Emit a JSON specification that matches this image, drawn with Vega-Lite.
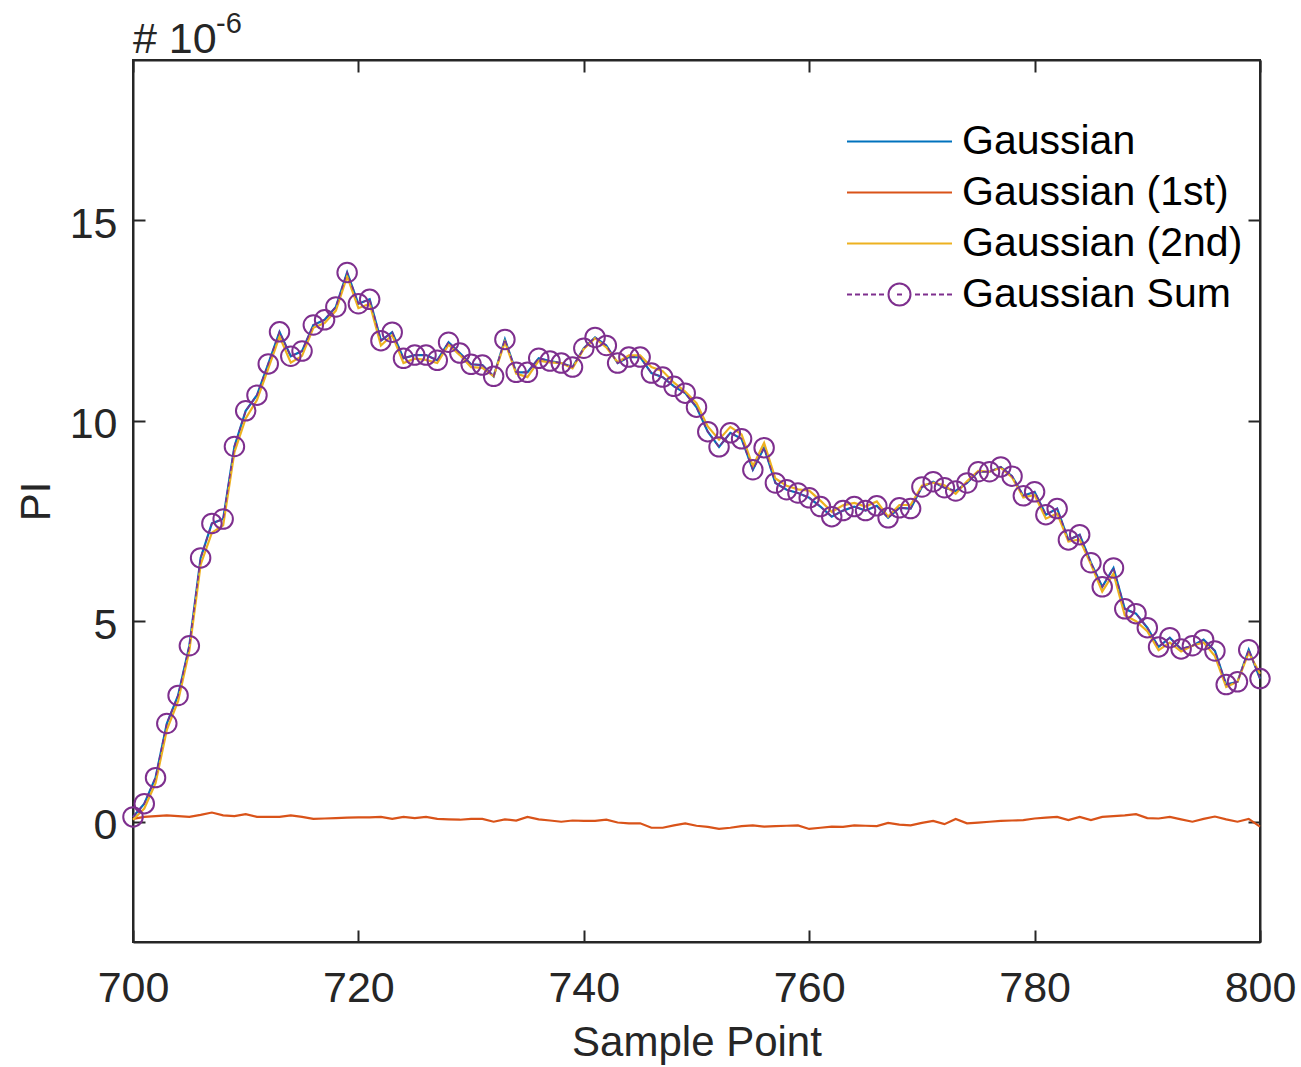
{
  "$schema": "https://vega.github.io/schema/vega-lite/v6.json",
  "width": 1127,
  "height": 882,
  "autosize": {"type": "none"},
  "padding": {"left": 133, "top": 60, "right": 41, "bottom": 125},
  "background": "white",
  "config": {
    "font": "Liberation Sans",
    "view": {"stroke": "#262626", "strokeWidth": 2},
    "axis": {
      "grid": false,
      "domainColor": "#262626",
      "domainWidth": 2,
      "tickColor": "#262626",
      "tickWidth": 2,
      "tickSize": -12,
      "labelFlush": false,
      "labelColor": "#262626",
      "labelFont": "Liberation Sans",
      "labelFontSize": 43,
      "titleFont": "Liberation Sans",
      "titleFontSize": 42,
      "titleFontWeight": "normal",
      "titleColor": "#262626"
    }
  },
  "data": {
    "values": [
      {"x": 700, "g": 0.12, "g1": 0.07, "g2": 0.05, "sum": 0.12},
      {"x": 701, "g": 0.45, "g1": 0.12, "g2": 0.33, "sum": 0.45},
      {"x": 702, "g": 1.10, "g1": 0.14, "g2": 0.96, "sum": 1.10},
      {"x": 703, "g": 2.45, "g1": 0.16, "g2": 2.29, "sum": 2.45},
      {"x": 704, "g": 3.15, "g1": 0.14, "g2": 3.01, "sum": 3.15},
      {"x": 705, "g": 4.39, "g1": 0.12, "g2": 4.27, "sum": 4.39},
      {"x": 706, "g": 6.58, "g1": 0.17, "g2": 6.41, "sum": 6.58},
      {"x": 707, "g": 7.44, "g1": 0.23, "g2": 7.21, "sum": 7.44},
      {"x": 708, "g": 7.55, "g1": 0.16, "g2": 7.39, "sum": 7.55},
      {"x": 709, "g": 9.36, "g1": 0.14, "g2": 9.22, "sum": 9.36},
      {"x": 710, "g": 10.25, "g1": 0.19, "g2": 10.06, "sum": 10.25},
      {"x": 711, "g": 10.64, "g1": 0.12, "g2": 10.52, "sum": 10.64},
      {"x": 712, "g": 11.42, "g1": 0.12, "g2": 11.30, "sum": 11.42},
      {"x": 713, "g": 12.22, "g1": 0.12, "g2": 12.10, "sum": 12.22},
      {"x": 714, "g": 11.61, "g1": 0.16, "g2": 11.45, "sum": 11.61},
      {"x": 715, "g": 11.74, "g1": 0.12, "g2": 11.62, "sum": 11.74},
      {"x": 716, "g": 12.39, "g1": 0.07, "g2": 12.32, "sum": 12.39},
      {"x": 717, "g": 12.52, "g1": 0.08, "g2": 12.44, "sum": 12.52},
      {"x": 718, "g": 12.84, "g1": 0.09, "g2": 12.75, "sum": 12.84},
      {"x": 719, "g": 13.70, "g1": 0.10, "g2": 13.60, "sum": 13.70},
      {"x": 720, "g": 12.92, "g1": 0.11, "g2": 12.81, "sum": 12.92},
      {"x": 721, "g": 13.03, "g1": 0.11, "g2": 12.92, "sum": 13.03},
      {"x": 722, "g": 12.00, "g1": 0.12, "g2": 11.88, "sum": 12.00},
      {"x": 723, "g": 12.21, "g1": 0.07, "g2": 12.14, "sum": 12.21},
      {"x": 724, "g": 11.56, "g1": 0.12, "g2": 11.44, "sum": 11.56},
      {"x": 725, "g": 11.64, "g1": 0.09, "g2": 11.55, "sum": 11.64},
      {"x": 726, "g": 11.64, "g1": 0.12, "g2": 11.52, "sum": 11.64},
      {"x": 727, "g": 11.51, "g1": 0.07, "g2": 11.44, "sum": 11.51},
      {"x": 728, "g": 11.96, "g1": 0.06, "g2": 11.90, "sum": 11.96},
      {"x": 729, "g": 11.69, "g1": 0.05, "g2": 11.64, "sum": 11.69},
      {"x": 730, "g": 11.41, "g1": 0.07, "g2": 11.34, "sum": 11.41},
      {"x": 731, "g": 11.39, "g1": 0.07, "g2": 11.32, "sum": 11.39},
      {"x": 732, "g": 11.11, "g1": 0.00, "g2": 11.11, "sum": 11.11},
      {"x": 733, "g": 12.03, "g1": 0.06, "g2": 11.97, "sum": 12.03},
      {"x": 734, "g": 11.21, "g1": 0.03, "g2": 11.18, "sum": 11.21},
      {"x": 735, "g": 11.21, "g1": 0.12, "g2": 11.09, "sum": 11.21},
      {"x": 736, "g": 11.56, "g1": 0.06, "g2": 11.50, "sum": 11.56},
      {"x": 737, "g": 11.49, "g1": 0.03, "g2": 11.46, "sum": 11.49},
      {"x": 738, "g": 11.44, "g1": 0.00, "g2": 11.44, "sum": 11.44},
      {"x": 739, "g": 11.34, "g1": 0.03, "g2": 11.31, "sum": 11.34},
      {"x": 740, "g": 11.81, "g1": 0.02, "g2": 11.79, "sum": 11.81},
      {"x": 741, "g": 12.08, "g1": 0.02, "g2": 12.06, "sum": 12.08},
      {"x": 742, "g": 11.88, "g1": 0.05, "g2": 11.83, "sum": 11.88},
      {"x": 743, "g": 11.44, "g1": -0.02, "g2": 11.46, "sum": 11.44},
      {"x": 744, "g": 11.59, "g1": -0.04, "g2": 11.63, "sum": 11.59},
      {"x": 745, "g": 11.59, "g1": -0.04, "g2": 11.63, "sum": 11.59},
      {"x": 746, "g": 11.19, "g1": -0.15, "g2": 11.34, "sum": 11.19},
      {"x": 747, "g": 11.09, "g1": -0.15, "g2": 11.24, "sum": 11.09},
      {"x": 748, "g": 10.86, "g1": -0.09, "g2": 10.95, "sum": 10.86},
      {"x": 749, "g": 10.69, "g1": -0.04, "g2": 10.73, "sum": 10.69},
      {"x": 750, "g": 10.34, "g1": -0.10, "g2": 10.44, "sum": 10.34},
      {"x": 751, "g": 9.73, "g1": -0.13, "g2": 9.86, "sum": 9.73},
      {"x": 752, "g": 9.35, "g1": -0.18, "g2": 9.53, "sum": 9.35},
      {"x": 753, "g": 9.70, "g1": -0.15, "g2": 9.85, "sum": 9.70},
      {"x": 754, "g": 9.55, "g1": -0.11, "g2": 9.66, "sum": 9.55},
      {"x": 755, "g": 8.78, "g1": -0.09, "g2": 8.87, "sum": 8.78},
      {"x": 756, "g": 9.33, "g1": -0.12, "g2": 9.45, "sum": 9.33},
      {"x": 757, "g": 8.45, "g1": -0.11, "g2": 8.56, "sum": 8.45},
      {"x": 758, "g": 8.28, "g1": -0.10, "g2": 8.38, "sum": 8.28},
      {"x": 759, "g": 8.20, "g1": -0.09, "g2": 8.29, "sum": 8.20},
      {"x": 760, "g": 8.08, "g1": -0.18, "g2": 8.26, "sum": 8.08},
      {"x": 761, "g": 7.86, "g1": -0.15, "g2": 8.01, "sum": 7.86},
      {"x": 762, "g": 7.61, "g1": -0.12, "g2": 7.73, "sum": 7.61},
      {"x": 763, "g": 7.76, "g1": -0.13, "g2": 7.89, "sum": 7.76},
      {"x": 764, "g": 7.86, "g1": -0.09, "g2": 7.95, "sum": 7.86},
      {"x": 765, "g": 7.76, "g1": -0.10, "g2": 7.86, "sum": 7.76},
      {"x": 766, "g": 7.88, "g1": -0.11, "g2": 7.99, "sum": 7.88},
      {"x": 767, "g": 7.58, "g1": -0.03, "g2": 7.61, "sum": 7.58},
      {"x": 768, "g": 7.83, "g1": -0.07, "g2": 7.90, "sum": 7.83},
      {"x": 769, "g": 7.81, "g1": -0.09, "g2": 7.90, "sum": 7.81},
      {"x": 770, "g": 8.35, "g1": -0.03, "g2": 8.38, "sum": 8.35},
      {"x": 771, "g": 8.48, "g1": 0.02, "g2": 8.46, "sum": 8.48},
      {"x": 772, "g": 8.33, "g1": -0.06, "g2": 8.39, "sum": 8.33},
      {"x": 773, "g": 8.25, "g1": 0.07, "g2": 8.18, "sum": 8.25},
      {"x": 774, "g": 8.45, "g1": -0.04, "g2": 8.49, "sum": 8.45},
      {"x": 775, "g": 8.73, "g1": -0.02, "g2": 8.75, "sum": 8.73},
      {"x": 776, "g": 8.73, "g1": 0.00, "g2": 8.73, "sum": 8.73},
      {"x": 777, "g": 8.85, "g1": 0.02, "g2": 8.83, "sum": 8.85},
      {"x": 778, "g": 8.62, "g1": 0.03, "g2": 8.59, "sum": 8.62},
      {"x": 779, "g": 8.13, "g1": 0.04, "g2": 8.09, "sum": 8.13},
      {"x": 780, "g": 8.23, "g1": 0.08, "g2": 8.15, "sum": 8.23},
      {"x": 781, "g": 7.66, "g1": 0.10, "g2": 7.56, "sum": 7.66},
      {"x": 782, "g": 7.81, "g1": 0.12, "g2": 7.69, "sum": 7.81},
      {"x": 783, "g": 7.03, "g1": 0.04, "g2": 6.99, "sum": 7.03},
      {"x": 784, "g": 7.16, "g1": 0.12, "g2": 7.04, "sum": 7.16},
      {"x": 785, "g": 6.46, "g1": 0.04, "g2": 6.42, "sum": 6.46},
      {"x": 786, "g": 5.86, "g1": 0.12, "g2": 5.74, "sum": 5.86},
      {"x": 787, "g": 6.33, "g1": 0.14, "g2": 6.19, "sum": 6.33},
      {"x": 788, "g": 5.31, "g1": 0.16, "g2": 5.15, "sum": 5.31},
      {"x": 789, "g": 5.19, "g1": 0.19, "g2": 5.00, "sum": 5.19},
      {"x": 790, "g": 4.84, "g1": 0.09, "g2": 4.75, "sum": 4.84},
      {"x": 791, "g": 4.36, "g1": 0.08, "g2": 4.28, "sum": 4.36},
      {"x": 792, "g": 4.59, "g1": 0.12, "g2": 4.47, "sum": 4.59},
      {"x": 793, "g": 4.31, "g1": 0.06, "g2": 4.25, "sum": 4.31},
      {"x": 794, "g": 4.39, "g1": 0.00, "g2": 4.39, "sum": 4.39},
      {"x": 795, "g": 4.54, "g1": 0.07, "g2": 4.47, "sum": 4.54},
      {"x": 796, "g": 4.26, "g1": 0.13, "g2": 4.13, "sum": 4.26},
      {"x": 797, "g": 3.42, "g1": 0.06, "g2": 3.36, "sum": 3.42},
      {"x": 798, "g": 3.49, "g1": 0.00, "g2": 3.49, "sum": 3.49},
      {"x": 799, "g": 4.29, "g1": 0.07, "g2": 4.22, "sum": 4.29},
      {"x": 800, "g": 3.57, "g1": -0.12, "g2": 3.69, "sum": 3.57}
    ]
  },
  "layer": [
    {
      "transform": [{"fold": ["g", "g1", "g2"], "as": ["series", "pi"]}],
      "mark": {"type": "line", "strokeWidth": 2.2},
      "encoding": {
        "x": {
          "field": "x", "type": "quantitative",
          "scale": {"domain": [700, 800], "nice": false, "zero": false},
          "axis": {"orient": "bottom", "values": [700, 720, 740, 760, 780, 800], "format": "d", "title": "Sample Point", "labelPadding": 37, "titlePadding": 12}
        },
        "y": {
          "field": "pi", "type": "quantitative",
          "scale": {"domain": [-3, 19], "nice": false, "zero": false},
          "axis": {"orient": "left", "values": [0, 5, 10, 15], "title": "PI", "labelPadding": 28, "labelOffset": 4, "titlePadding": 11}
        },
        "color": {
          "field": "series", "type": "nominal",
          "scale": {"domain": ["g", "g1", "g2", "sum"], "range": ["#0072BD", "#D95319", "#EDB120", "#7E2F8E"]},
          "legend": {
            "orient": "none",
            "legendX": 714,
            "legendY": 61,
            "title": null,
            "padding": 0,
            "symbolType": "M-3.5,0H3.5",
            "symbolSize": 900,
            "symbolOffset": 32,
            "symbolStrokeWidth": 2,
            "symbolFillColor": "transparent",
            "labelFont": "Liberation Sans",
            "labelFontSize": 41,
            "labelColor": "#000000",
            "labelOffset": 42,
            "labelLimit": 500,
            "rowPadding": 9,
            "labelExpr": "{'g': 'Gaussian', 'g1': 'Gaussian (1st)', 'g2': 'Gaussian (2nd)', 'sum': 'Gaussian Sum'}[datum.label]",
            "encode": {
              "symbols": {
                "update": {
                  "shape": {"signal": "datum.value === 'sum' ? 'M-3.5,0H-3.167M-2.967,0H-2.633M-2.433,0H-2.1M-1.9,0H-1.567M-1.367,0H-1.033M0.733,0A0.733,0.733 0 1 1 -0.733,0A0.733,0.733 0 1 1 0.733,0M-0.167,0H0.167M1.033,0H1.367M1.567,0H1.9M2.1,0H2.433M2.633,0H2.967M3.167,0H3.5' : 'M-3.5,0H3.5'"},
                  "fill": {"value": "transparent"}
                }
              }
            }
          }
        }
      }
    },
    {
      "mark": {"type": "line", "strokeWidth": 1.6, "color": "#7E2F8E", "strokeDash": [5, 3]},
      "encoding": {
        "x": {"field": "x", "type": "quantitative", "axis": null},
        "y": {"field": "sum", "type": "quantitative", "axis": null}
      }
    },
    {
      "mark": {"type": "point", "shape": "circle", "filled": false, "size": 380, "strokeWidth": 2, "color": "#7E2F8E", "opacity": 1},
      "encoding": {
        "x": {"field": "x", "type": "quantitative", "axis": {"orient": "top", "values": [700, 720, 740, 760, 780, 800], "labels": false, "title": null}},
        "y": {"field": "sum", "type": "quantitative", "axis": {"orient": "right", "values": [0, 5, 10, 15], "labels": false, "title": null}}
      }
    },
    {
      "data": {"values": [{"x": 700, "y": 19, "base": "# 10", "exp": "-6"}]},
      "layer": [
        {
          "mark": {"type": "text", "align": "left", "baseline": "alphabetic", "fontSize": 43, "font": "Liberation Sans", "color": "#262626", "dy": -7},
          "encoding": {
            "x": {"field": "x", "type": "quantitative", "axis": null},
            "y": {"field": "y", "type": "quantitative", "axis": null},
            "text": {"field": "base"}
          }
        },
        {
          "mark": {"type": "text", "align": "left", "baseline": "alphabetic", "fontSize": 29, "font": "Liberation Sans", "color": "#262626", "dx": 83, "dy": -27},
          "encoding": {
            "x": {"field": "x", "type": "quantitative", "axis": null},
            "y": {"field": "y", "type": "quantitative", "axis": null},
            "text": {"field": "exp"}
          }
        }
      ]
    }
  ],
  "resolve": {"axis": {"x": "independent", "y": "independent"}}
}
